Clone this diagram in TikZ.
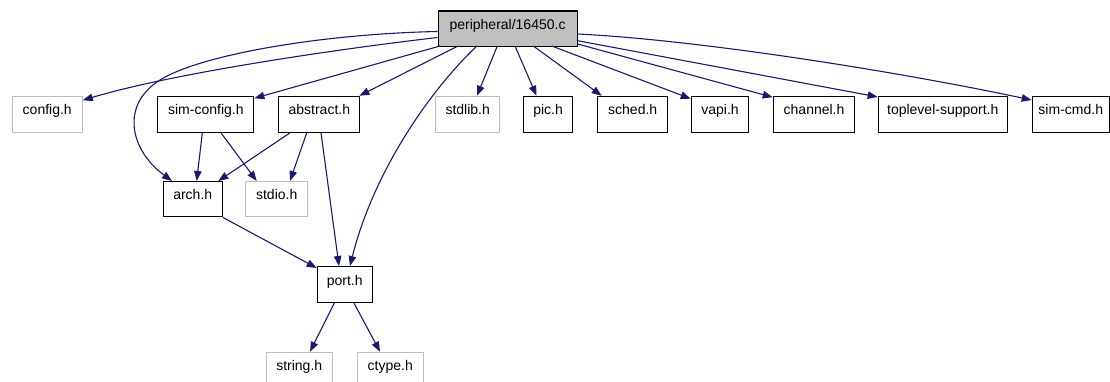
\documentclass[tikz,border=0pt]{standalone}
\usepackage{fontspec}
\setmainfont{Liberation Sans}
\usetikzlibrary{arrows.meta,calc}
\definecolor{edgeblue}{RGB}{25,25,112}
\definecolor{boxgray}{RGB}{191,191,191}
\begin{document}
\begin{tikzpicture}[x=1pt,y=-1pt,
  nodebase/.style={rectangle, anchor=north west, inner sep=0pt, minimum height=36pt,
    text height=7pt, text depth=5.8pt,
    font=\fontsize{14}{16}\selectfont, text=black},
  blackbox/.style={nodebase, draw=black, line width=1.1pt, fill=white},
  graybox/.style={nodebase, draw=boxgray, line width=1.1pt, fill=white},
  mainbox/.style={nodebase, draw=black, line width=1.1pt, fill=boxgray},
  dep/.style={draw=edgeblue, line width=1.1pt, -{Triangle[length=10pt,width=7.5pt]}}]
\clip (0,0) rectangle (1110,382);
% top
\node[mainbox, minimum width=139pt, minimum height=35.5pt] (main) at (437.5,10.5) {peripheral/16450.c};
% row 1
\node[graybox, minimum width=70pt] (config) at (11.7,95.75) {config.h};
\node[blackbox, minimum width=96pt] (simconfig) at (157.3,95.75) {sim-config.h};
\node[blackbox, minimum width=81pt] (abstract) at (278.3,95.75) {abstract.h};
\node[graybox, minimum width=64.3pt] (stdlib) at (435,95.75) {stdlib.h};
\node[blackbox, minimum width=49.6pt] (pic) at (522.7,95.75) {pic.h};
\node[blackbox, minimum width=70.3pt] (sched) at (597,95.75) {sched.h};
\node[blackbox, minimum width=57.6pt] (vapi) at (690.7,95.75) {vapi.h};
\node[blackbox, minimum width=81.6pt] (channel) at (772.7,95.75) {channel.h};
\node[blackbox, minimum width=129pt] (toplevel) at (877.7,95.75) {toplevel-support.h};
\node[blackbox, minimum width=77pt] (simcmd) at (1031.7,95.75) {sim-cmd.h};
% row 2
\node[blackbox, minimum width=59pt, minimum height=35.3pt] (arch) at (162.7,181) {arch.h};
\node[graybox, minimum width=61.7pt, minimum height=35.3pt] (stdio) at (245.3,181) {stdio.h};
% row 3
\node[blackbox, minimum width=55pt] (port) at (316.7,266) {port.h};
% row 4
\node[graybox, minimum width=66pt, minimum height=36pt] (string) at (265.7,351.7) {string.h};
\node[graybox, minimum width=66pt, minimum height=36pt] (ctype) at (356.7,351.7) {ctype.h};
% edges from main
\path[dep] ($(main.north west)+(0,27)$) .. controls (330,50) and (170,74) .. ($(config.north east)+(0,4.5)$);
\path[dep] ($(main.north west)+(0,21)$) .. controls (320,34) and (200,55) .. (160,80)
  .. controls (120,105) and (130,150) .. ($(arch.north west)+(9.3,0)$);
\path[dep] ($(main.north west)+(2.5,35.5)$) -- ($(simconfig.north east)+(0,2.5)$);
\path[dep] ($(main.north west)+(20.5,35.5)$) -- ($(abstract.north east)+(-1,0)$);
\path[dep] ($(main.north west)+(39.5,35.5)$) .. controls (432,88) and (374,170) .. ($(port.north west)+(33.3,0)$);
\path[dep] ($(main.north west)+(59.8,35.5)$) -- ($(stdlib.north west)+(42,0)$);
\path[dep] ($(main.north west)+(77.5,35.5)$) -- ($(pic.north west)+(13.8,0)$);
\path[dep] ($(main.north west)+(95.8,35.5)$) -- ($(sched.north west)+(4.7,0)$);
\path[dep] ($(main.north west)+(114.2,35.5)$) -- ($(vapi.north west)+(0,3)$);
\path[dep] ($(main.north east)+(0,33.5)$) -- ($(channel.north west)+(0,1.5)$);
\path[dep] ($(main.north east)+(0,30.2)$) -- ($(toplevel.north west)+(0,1.2)$);
\path[dep] ($(main.north east)+(0,23.5)$) .. controls (700,40) and (900,72) .. ($(simcmd.north west)+(0,4.3)$);
% second level
\path[dep] ($(simconfig.south west)+(45,0)$) -- ($(arch.north west)+(34,0)$);
\path[dep] ($(simconfig.south west)+(63.7,0)$) -- ($(stdio.north west)+(11.4,0)$);
\path[dep] ($(abstract.south west)+(11.7,0)$) -- ($(arch.north west)+(55.6,0)$);
\path[dep] ($(abstract.south west)+(28.4,0)$) -- ($(stdio.north west)+(44.7,0)$);
\path[dep] ($(abstract.south west)+(42.7,0)$) -- ($(port.north west)+(22.3,0)$);
\path[dep] (arch.south east) -- ($(port.north west)+(0,2)$);
\path[dep] ($(port.south west)+(17.6,0)$) -- ($(string.north west)+(44.3,0)$);
\path[dep] ($(port.south west)+(37.3,0)$) -- ($(ctype.north west)+(23.3,0)$);
\end{tikzpicture}
\end{document}
